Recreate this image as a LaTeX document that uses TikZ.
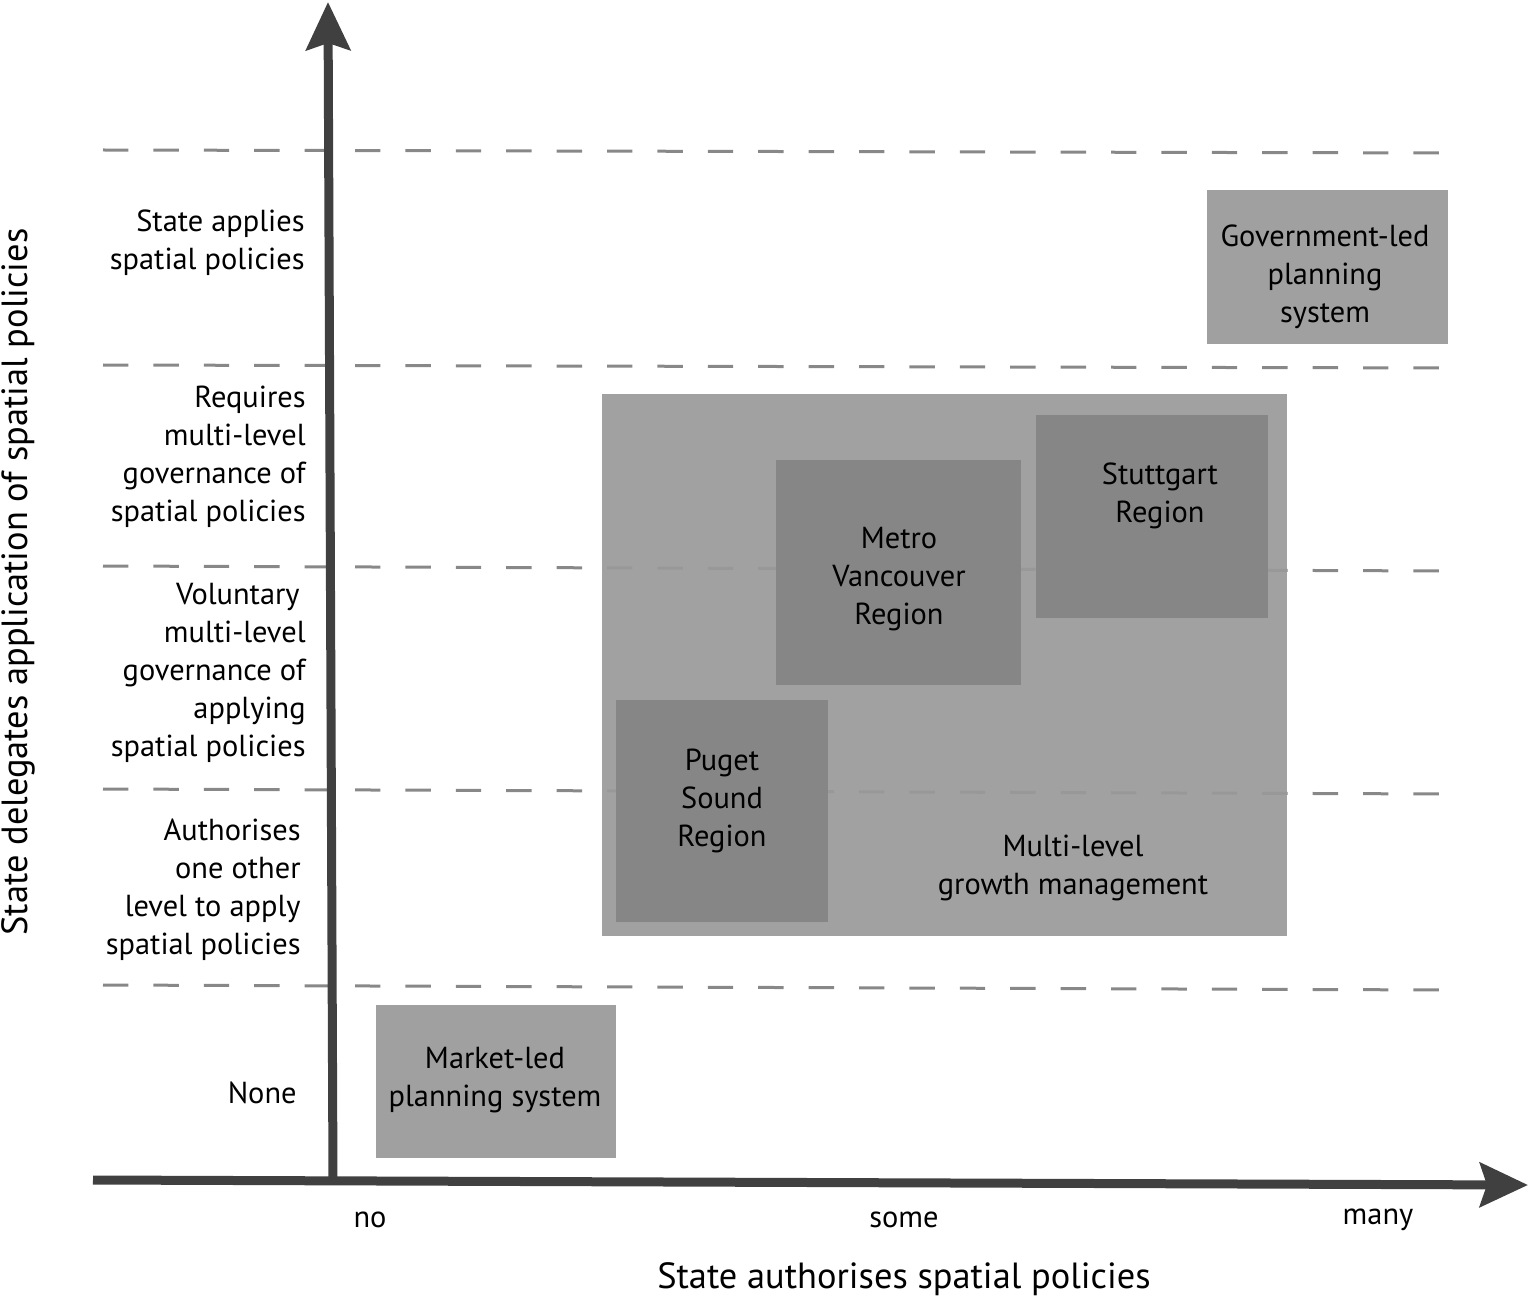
\documentclass[tikz,border=0pt]{standalone}
\usepackage{fontspec}
\setmainfont{PT Sans}
\usetikzlibrary{arrows.meta,fit}
\definecolor{axisgray}{HTML}{404040}
\definecolor{dashgray}{HTML}{888888}
\definecolor{boxlight}{HTML}{A0A0A0}
\definecolor{boxbig}{HTML}{9A9A9A}
\definecolor{boxdark}{HTML}{858585}
\begin{document}
\begin{tikzpicture}[x=0.5pt,y=-0.5pt,
  lbl/.style={font=\fontsize{15.2pt}{19pt}\selectfont, inner sep=0pt, align=center},
  rlbl/.style={lbl, align=right, anchor=east},
  ttl/.style={font=\fontsize{18.2pt}{22pt}\selectfont, inner sep=0pt},
  axisline/.style={draw=axisgray, line width=4.5pt, -{Stealth[length=24pt, width=22pt, inset=3.5pt]}},
  levelline/.style={draw=dashgray, line width=1.5pt, dash pattern=on 12.7pt off 12.5pt},
  boxa/.style={fill=boxlight, inner sep=0pt, draw=none},
  boxb/.style={fill=boxbig, fill opacity=0.93, inner sep=0pt, draw=none},
  boxc/.style={fill=boxdark, fill opacity=0.93, inner sep=0pt, draw=none}]
\useasboundingbox (0,0) rectangle (1530,1299);

% level separators
\coordinate (d1a) at (103,150); \coordinate (d1b) at (1450,153);
\coordinate (d2a) at (103,365); \coordinate (d2b) at (1450,368);
\coordinate (d3a) at (103,566); \coordinate (d3b) at (1450,571);
\coordinate (d4a) at (103,789); \coordinate (d4b) at (1450,794);
\coordinate (d5a) at (103,985); \coordinate (d5b) at (1450,990);
\draw[levelline] (d1a) -- (d1b);
\draw[levelline] (d2a) -- (d2b);
\draw[levelline] (d3a) -- (d3b);
\draw[levelline] (d4a) -- (d4b);
\draw[levelline] (d5a) -- (d5b);

% boxes
\node[boxa, fit={(1207,190)(1448,344)}] (gov) {};
\node[boxb, fit={(602,394)(1287,936)}] (multi) {};
\node[boxc, fit={(776,460)(1021,685)}] (metro) {};
\node[boxc, fit={(1036,415)(1268,618)}] (stutt) {};
\node[boxc, fit={(616,700)(828,922)}] (puget) {};
\node[boxa, fit={(376,1005)(616,1158)}] (market) {};

% box texts
\node[lbl] (govt) at (1325,277) {Government-led\\planning\\system};
\node[lbl] (metrot) at (899,579) {Metro\\Vancouver\\Region};
\node[lbl] (stuttt) at (1160,496) {Stuttgart\\Region};
\node[lbl] (pugett) at (722,801) {Puget\\Sound\\Region};
\node[lbl] (multit) at (1073,868) {Multi-level\\growth management};
\node[lbl] (markett) at (495,1080) {Market-led\\planning system};

% axes
\coordinate (xstart) at (93,1180);
\coordinate (xend) at (1528,1185);
\coordinate (ystart) at (333,1182);
\coordinate (yend) at (328,2);
\draw[axisline] (ystart) -- (yend);
\draw[axisline] (xstart) -- (xend);

% level labels
\node[rlbl] (l1) at (305,243) {State applies\\spatial policies};
\node[rlbl] (l2) at (306,457) {Requires\\multi-level\\governance of\hspace*{3pt}\\spatial policies};
\node[rlbl] (l3) at (306,673) {Voluntary\hspace*{3pt}\\multi-level\\governance of\hspace*{3pt}\\applying\hspace*{3.5pt}\\spatial policies};
\node[rlbl] (l4) at (301,890) {Authorises\\one other\hspace*{3.5pt}\\level to apply\\spatial policies};
\node[rlbl] (l5) at (297,1093) {None};

% tick labels
\node[lbl] (tno) at (370,1220) {no};
\node[lbl] (tsome) at (904,1220) {some};
\node[lbl] (tmany) at (1378,1220) {many};

% axis titles
\node[ttl] (xt) at (904,1279) {State authorises spatial policies};
\node[ttl, rotate=90] (yt) at (18,582) {State delegates application of spatial policies};
\end{tikzpicture}
\end{document}
